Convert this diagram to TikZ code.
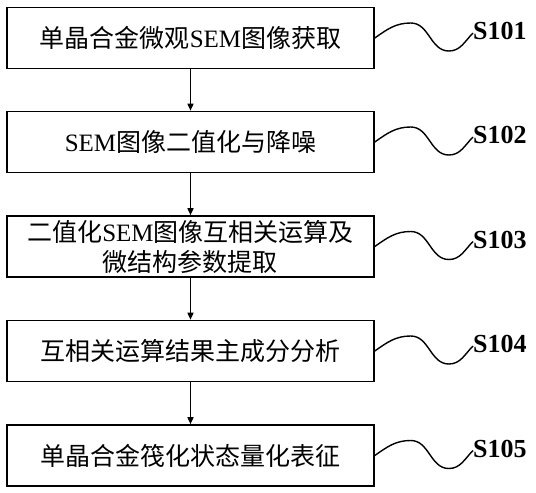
\documentclass[tikz,border=0pt]{standalone}
\usepackage{fontspec}
\setmainfont{Liberation Serif}
\newfontfamily\cjk{Noto Sans CJK SC}
\usetikzlibrary{arrows.meta}
\newcommand{\zh}[1]{{\cjk #1}}

\begin{document}
\begin{tikzpicture}[x=1pt,y=-1pt]
						\useasboundingbox (0,0) rectangle (536,493);
						\begin{scope}[every node/.style={draw=black, line width=1.6pt, minimum width=367pt, minimum height=61pt, inner sep=0pt, align=center, font=\fontsize{25}{30}\selectfont}]
							\node (s1) at (190.5,38) {\zh{单晶合金微观}SEM\zh{图像获取}};
							\node (s2) at (190.5,142) {SEM\zh{图像二值化与降噪}};
							\node (s3) at (190.5,246.5) {\zh{二值化}SEM\zh{图像互相关运算及}\\\zh{微结构参数提取}};
							\node (s4) at (190.5,351) {\zh{互相关运算结果主成分分析}};
							\node (s5) at (190.5,455.5) {\zh{单晶合金筏化状态量化表征}};
						\end{scope}
						\begin{scope}[every node/.style={anchor=west, inner sep=0pt, font=\fontsize{26}{26}\selectfont\bfseries}]
							\node (l1) at (473,31) {S101};
							\node (l2) at (473,135) {S102};
							\node (l3) at (473,239.5) {S103};
							\node (l4) at (473,344) {S104};
							\node (l5) at (473,448.5) {S105};
						\end{scope}
						\begin{scope}[every edge/.style={draw=black, line width=1.5pt, -{Triangle[length=7pt,width=6pt]}}]
							\path (s1) edge (s2);
							\path (s2) edge (s3);
							\path (s3) edge (s4);
							\path (s4) edge (s5);
						\end{scope}
						\begin{scope}[line width=1.4pt]
							\draw (s1.east) to[out=35,in=180] ++(36,-15) to[out=0,in=180] ++(38,28) to[out=0,in=225] ([yshift=-2pt]l1.west);
							\draw (s2.east) to[out=35,in=180] ++(36,-15) to[out=0,in=180] ++(38,28) to[out=0,in=225] ([yshift=-2pt]l2.west);
							\draw (s3.east) to[out=35,in=180] ++(36,-15) to[out=0,in=180] ++(38,28) to[out=0,in=225] ([yshift=-2pt]l3.west);
							\draw (s4.east) to[out=35,in=180] ++(36,-15) to[out=0,in=180] ++(38,28) to[out=0,in=225] ([yshift=-2pt]l4.west);
							\draw (s5.east) to[out=35,in=180] ++(36,-15) to[out=0,in=180] ++(38,28) to[out=0,in=225] ([yshift=-2pt]l5.west);
						\end{scope}
					\end{tikzpicture}
\end{document}
